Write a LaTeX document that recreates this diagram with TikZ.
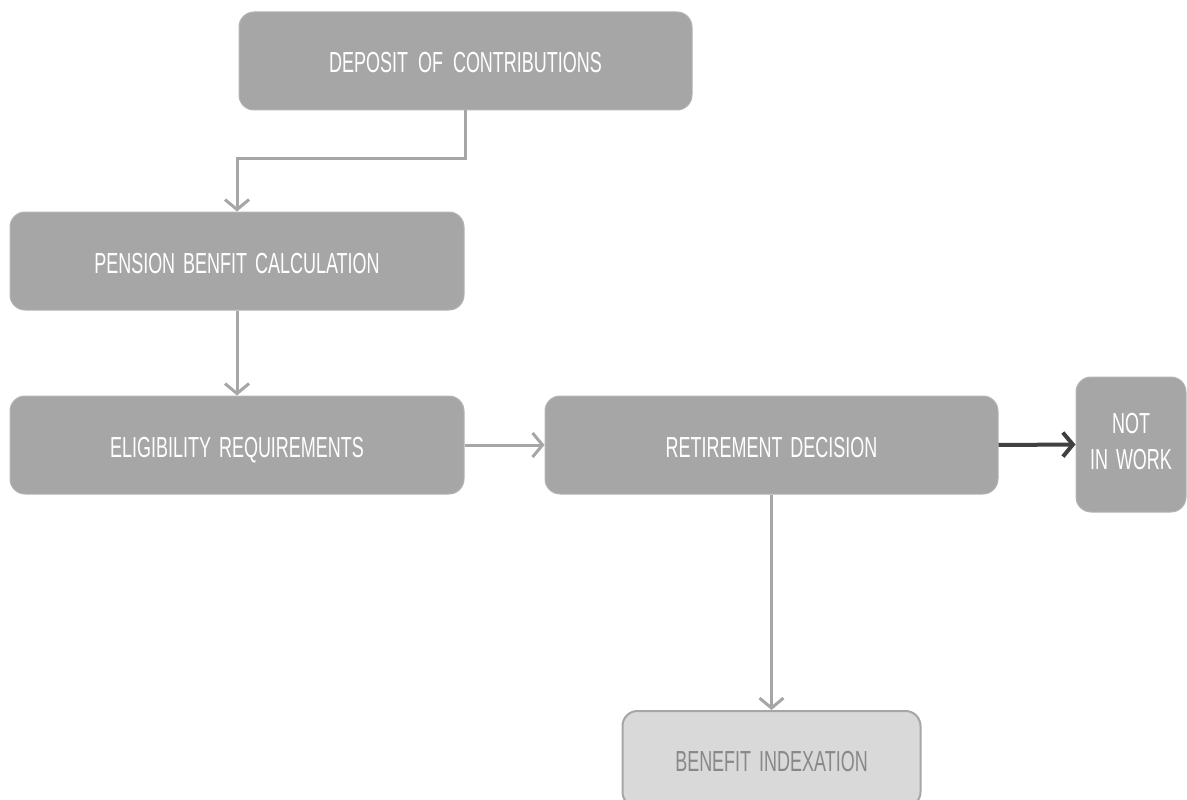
\documentclass[tikz,border=0pt]{standalone}
\usepackage{fontspec}
\setmainfont[FakeStretch=0.62,WordSpace=1.6]{Liberation Sans}
\usetikzlibrary{arrows.meta}
\definecolor{boxgray}{HTML}{A6A6A6}
\definecolor{boxedge}{HTML}{B4B4B4}
\definecolor{lightfill}{HTML}{D9D9D9}
\definecolor{lighttext}{HTML}{888888}
\definecolor{darkline}{HTML}{404040}
\begin{document}
\begin{tikzpicture}[x=1pt,y=-1pt,
  box/.style={draw=boxedge, line width=1pt, fill=boxgray, rounded corners=15pt,
    text=white, font=\fontsize{29}{36}\selectfont, inner sep=0pt,
    text height=24pt, text depth=0pt},
  lightbox/.style={box, fill=lightfill, draw=boxgray, line width=2pt, text=lighttext},
  conn/.style={draw=boxgray, line width=3pt, -{Straight Barb[length=10pt,width=24pt,line width=3pt]}},
  darkconn/.style={draw=darkline, line width=4pt, -{Straight Barb[length=10pt,width=24pt,line width=4pt]}}]
\useasboundingbox (0,0) rectangle (1187,800);
\node[box, minimum width=453pt, minimum height=98pt] (dep) at (465.5,61) {DEPOSIT\hspace{2pt} OF\hspace{2pt} CONTRIBUTIONS};
\node[box, minimum width=454pt, minimum height=98pt] (pen) at (237,261) {PENSION BENFIT CALCULATION};
\node[box, minimum width=454pt, minimum height=98pt] (eli) at (237,445) {ELIGIBILITY REQUIREMENTS};
\node[box, minimum width=453pt, minimum height=98pt] (ret) at (771.5,445) {RETIREMENT DECISION};
\node[box, minimum width=110pt, minimum height=135pt, text height=, text depth=] (niw) at (1131,444.5) {\begin{tabular}{@{}c@{}}NOT\\IN WORK\end{tabular}};
\node[lightbox, minimum width=298pt, minimum height=96pt] (ben) at (771.5,759) {BENEFIT INDEXATION};
\coordinate (bend) at (465.5,158);
\draw[conn] (dep.south) -- (bend) -| (pen.north);
\draw[conn] (pen.south) -- (eli.north);
\draw[conn] (eli.east) -- (ret.west);
\draw[darkconn] (ret.east) -- (niw.west);
\draw[conn] (ret.south) -- (ben.north);
\end{tikzpicture}
\end{document}
